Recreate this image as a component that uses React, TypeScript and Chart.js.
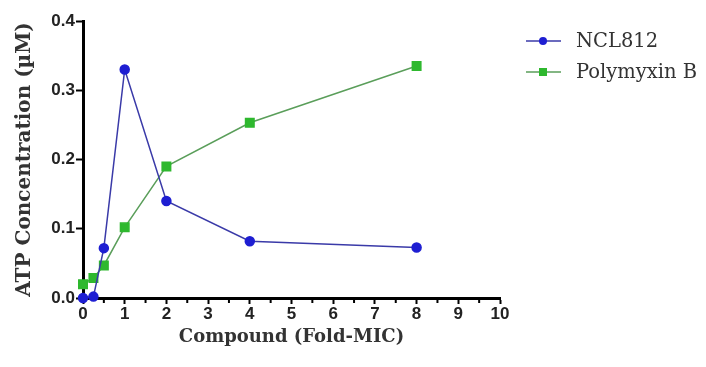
import React, { useEffect, useRef } from "react";
import { Chart, registerables } from "chart.js";

Chart.register(...registerables);

const foldMic = [0, 0.25, 0.5, 1, 2, 4, 8];
const ncl812 = [0, 0.002, 0.072, 0.33, 0.14, 0.082, 0.073];
const polymyxinB = [0.02, 0.029, 0.047, 0.102, 0.19, 0.253, 0.335];
const seriesNames = ["NCL812", "Polymyxin B"];
const xTitle = "Compound (Fold-MIC)";
const yTitle = "ATP Concentration (\u00b5M)";

const blueMarker = "#1e1ed2";
const blueLine = "#3a3aa8";
const greenMarker = "#2eb82e";
const greenLine = "#5a9e5a";

const minorTicks = {
  id: "minorTicks",
  afterDraw(chart: any) {
    const x = chart.scales.x;
    const y = chart.scales.y;
    const ctx = chart.ctx;
    const yb = y.getPixelForValue(0);
    ctx.save();
    ctx.strokeStyle = "#000";
    ctx.lineWidth = 2;
    for (let v = 0.5; v < 10; v += 1) {
      const px = x.getPixelForValue(v);
      ctx.beginPath();
      ctx.moveTo(px, yb);
      ctx.lineTo(px, yb + 5);
      ctx.stroke();
    }
    ctx.restore();
  },
};

const customLegend = {
  id: "customLegend",
  afterDraw(chart: any) {
    const ctx = chart.ctx;
    const items = [
      { name: seriesNames[0], line: blueLine, marker: blueMarker, shape: "circle" },
      { name: seriesNames[1], line: greenLine, marker: greenMarker, shape: "rect" },
    ];
    ctx.save();
    items.forEach((it, i) => {
      const yy = 41 + i * 31;
      ctx.strokeStyle = it.line;
      ctx.lineWidth = 1.5;
      ctx.beginPath();
      ctx.moveTo(526, yy);
      ctx.lineTo(561, yy);
      ctx.stroke();
      ctx.fillStyle = it.marker;
      if (it.shape === "circle") {
        ctx.beginPath();
        ctx.arc(543, yy, 4, 0, Math.PI * 2);
        ctx.fill();
      } else {
        ctx.fillRect(539, yy - 4, 8, 8);
      }
      ctx.fillStyle = "#333";
      ctx.font = "19.5px 'DejaVu Serif', serif";
      ctx.textBaseline = "middle";
      ctx.textAlign = "left";
      ctx.fillText(it.name, 576, yy + 1);
    });
    ctx.restore();
  },
};

export default function App() {
  const ref = useRef<HTMLCanvasElement>(null);
  useEffect(() => {
    if (!ref.current) return;
    const chart = new Chart(ref.current, {
      type: "scatter",
      data: {
        datasets: [
          {
            label: seriesNames[0],
            data: foldMic.map((x, i) => ({ x, y: ncl812[i] })),
            showLine: true,
            borderColor: blueLine,
            borderWidth: 1.5,
            pointBackgroundColor: blueMarker,
            pointBorderColor: blueMarker,
            pointRadius: 4.5,
            pointStyle: "circle",
            clip: false as any,
          },
          {
            label: seriesNames[1],
            data: foldMic.map((x, i) => ({ x, y: polymyxinB[i] })),
            showLine: true,
            borderColor: greenLine,
            borderWidth: 1.5,
            pointBackgroundColor: greenMarker,
            pointBorderColor: greenMarker,
            pointRadius: 6,
            pointStyle: "rect",
            clip: false as any,
          },
        ],
      },
      plugins: [minorTicks, customLegend],
      options: {
        animation: false,
        responsive: true,
        maintainAspectRatio: false,
        layout: { padding: { left: 13, right: 206, top: 21, bottom: 19 } },
        plugins: { legend: { display: false }, tooltip: { enabled: false } },
        scales: {
          x: {
            type: "linear",
            min: 0,
            max: 10,
            afterFit: (s: any) => {
              s.height = 50;
            },
            ticks: {
              stepSize: 1,
              color: "#222",
              font: { family: "'Liberation Sans', Arial, sans-serif", size: 17, weight: "bold" },
              padding: 0,
            },
            grid: { drawOnChartArea: false, drawTicks: true, tickLength: 6, tickWidth: 2, tickColor: "#000" },
            border: { display: true, color: "#000", width: 3 },
            title: {
              display: true,
              text: xTitle,
              color: "#333",
              font: { family: "'DejaVu Serif', serif", size: 18, weight: "bold" },
              padding: { top: 0, bottom: 0 },
            },
          },
          y: {
            type: "linear",
            min: 0,
            max: 0.4,
            afterFit: (s: any) => {
              s.width = 70;
            },
            ticks: {
              stepSize: 0.1,
              color: "#222",
              callback: (v: any) => Number(v).toFixed(1),
              font: { family: "'Liberation Sans', Arial, sans-serif", size: 17, weight: "bold" },
              padding: 1,
            },
            grid: { drawOnChartArea: false, drawTicks: true, tickLength: 7, tickWidth: 2, tickColor: "#000" },
            border: { display: true, color: "#000", width: 3 },
            title: {
              display: true,
              text: yTitle,
              color: "#333",
              font: { family: "'DejaVu Serif', serif", size: 20, weight: "bold" },
              padding: { top: 0, bottom: 0 },
            },
          },
        },
      },
    });
    return () => chart.destroy();
  }, []);
  return (
    <div style={{ position: "fixed", left: 0, top: 0, width: 706, height: 367, background: "#fff" }}>
      <canvas ref={ref} />
    </div>
  );
}
